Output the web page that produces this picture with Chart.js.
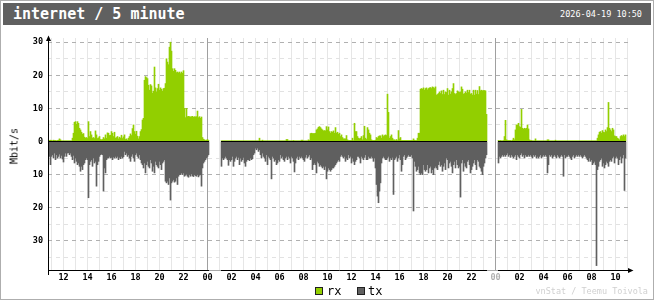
<!DOCTYPE html>
<html lang="en">

<head>
  <meta charset="UTF-8">
  <title>internet / 5 minute</title>
  <style>
    html, body { margin: 0; padding: 0; background: #fff; }
    #wrap { position: relative; width: 654px; height: 300px; font-family: "DejaVu Sans Mono", monospace; }
    #chart { position: absolute; left: 0; top: 0; }
    #frame { position: absolute; left: 0; top: 0; width: 654px; height: 300px; box-sizing: border-box; border: 1px solid #aeaeae; pointer-events: none; }
    #header { position: absolute; left: 3px; top: 3px; width: 648px; height: 22px; background: #606060; color: #fff; }
    #title { position: absolute; left: 10px; top: 0; line-height: 22px; font-size: 15px; font-weight: bold; white-space: pre; }
    #date { position: absolute; right: 9px; top: 0; line-height: 22px; font-size: 8.5px; }
    #unit { position: absolute; left: 14px; top: 146px; font-size: 10px; transform: translate(-50%, -50%) rotate(-90deg); white-space: nowrap; }
    .key { position: absolute; top: 287px; width: 6px; height: 6px; border: 1px solid #202020; }
    .keytext { position: absolute; top: 283px; font-size: 12px; line-height: 16px; }
    #credit { position: absolute; right: 6px; top: 286px; font-size: 8.5px; line-height: 10px; color: #d0d0d0; }
  </style>
</head>

<body>
  <div id="wrap">
    <canvas id="chart" width="654" height="300"></canvas>
    <div id="header">
      <span id="title">internet / 5 minute</span>
      <span id="date">2026-04-19 10:50</span>
    </div>
    <div id="unit">Mbit/s</div>
    <div class="key" style="left:315px;background:#92cf00"></div>
    <div class="keytext" style="left:327px">rx</div>
    <div class="key" style="left:357px;background:#606060"></div>
    <div class="keytext" style="left:368px">tx</div>
    <div id="credit">vnStat / Teemu Toivola</div>
    <div id="frame"></div>
  </div>

  <script src="https://cdn.jsdelivr.net/npm/chart.js"></script>
  <script>
    // first sample: 2026-04-17 10:50, in hours from 2026-04-18 00:00, one sample every 5 minutes
    const firstSample = -(13 + 10 / 60);

    // rx, Mbit/s, 04-17 10:50 .. 23:55
    const rx17 = [
      0.3, 0.4, 0.3, 0.2, 0.4, 0.3, 0.3, 0.2, 0.3, 0.4,
      0.8, 0.5,
      0.2, 0.2, 0.2, 0.2, 0.2, 0.2, 0.2, 0.2, 0.2, 0.2, 0.2,
      1.0, 2.5, 5.8, 6.0, 5.2, 6.0, 5.5, 4.0, 3.5,
      2.8, 2.2, 2.4, 1.3, 1.0, 1.2, 0.9, 6.0, 1.5, 3.0,
      2.0, 1.0, 1.2, 0.9, 3.2, 2.0, 0.9, 1.1, 1.5, 0.6,
      0.5, 0.6, 1.2, 0.8, 2.0, 1.0, 2.6, 2.5, 1.8, 1.9,
      3.0, 2.5, 1.5, 2.8, 1.0, 1.2, 1.5, 0.8, 1.3, 1.0,
      1.9, 0.9, 1.4, 2.0, 0.6, 0.8, 0.4, 1.0, 1.5, 2.3,
      1.8, 3.9, 5.0, 3.0, 2.2, 3.1, 1.6, 0.8, 1.5, 3.0,
      3.6, 6.5, 7.0, 18.5, 19.6, 19.3, 19.0, 17.0, 15.5, 17.2,
      16.8, 14.6, 15.2, 22.5, 16.2, 15.0, 16.0, 17.3, 15.5, 16.2,
      15.8, 15.2, 16.0, 16.1, 17.5, 25.0, 24.0, 23.2, 28.5, 30.0,
      27.3, 22.0, 21.2, 22.0, 21.5, 20.8, 21.0, 20.7, 21.0, 20.5,
      21.0, 20.6, 21.4, 10.0, 7.2, 10.0, 7.5, 7.6, 7.5, 7.4,
      7.5, 7.6, 7.3, 7.5, 7.4, 7.5, 9.2, 7.2, 7.5, 7.0,
      7.4, 1.2, 0.7, 0.5, 0.3, 0.4
    ];
    // rx, 04-18 00:00 .. 23:55
    const rx18 = [
      0.6, 0.3, null, null, null, null, null, null, null, null,
      null, null, null, null, 0.2, 0.2, 0.2, 0.2, 0.2, 0.2,
      0.2, 0.2, 0.2, 0.2, 0.2, 0.2, 0.2, 0.2, 0.2, 0.2,
      0.2, 0.2, 0.2, 0.2, 0.2, 0.2, 0.2, 0.2, 0.2, 0.2,
      0.2, 0.2, 0.2, 0.2, 0.2, 0.2, 0.2, 0.2, 0.2, 0.2,
      0.2, 0.2, 1.0, 0.2, 0.2, 0.4, 0.2, 0.2, 0.2, 0.2,
      0.2, 0.2, 0.2, 0.2, 0.2, 0.2, 0.2, 0.2, 0.2, 0.2,
      0.2, 0.2, 0.2, 0.2, 0.2, 0.2, 0.2, 0.2, 0.2, 0.6,
      0.6, 0.2, 0.2, 0.2, 0.2, 0.2, 0.3, 0.2, 0.2, 0.2,
      0.2, 0.2, 0.2, 0.2, 0.4, 0.4, 0.2, 0.2, 0.2, 0.2,
      0.2, 0.5, 0.3, 2.4, 2.5, 2.4, 2.4, 2.4, 2.5, 3.5,
      3.8, 4.3, 4.5, 4.2, 3.8, 3.5, 3.2, 3.3, 3.2, 4.5,
      3.5, 4.4, 3.0, 2.5, 3.0, 2.8, 3.2, 2.5, 4.2, 2.5,
      2.8, 2.2, 2.5, 1.5, 2.0, 1.2, 0.8, 0.8, 0.8, 1.8,
      0.5, 0.3, 0.3, 0.3, 0.3, 1.0, 0.3, 5.5, 3.0, 3.0,
      1.5, 1.0, 0.8, 1.0, 1.5, 0.5, 1.8, 4.6, 1.0, 0.6,
      4.2, 3.5, 2.5, 2.0, 0.5, 0.3, 0.3, 0.3, 0.4, 1.2,
      1.0, 1.5, 1.7, 1.7, 1.0, 2.0, 1.5, 1.8, 2.0, 1.8,
      14.3, 8.8, 1.0, 1.5, 2.0, 1.0, 0.5, 0.5, 0.3, 0.6,
      0.3, 3.3, 0.8, 1.2, 0.3, 0.3, 0.3, 0.3, 0.3, 0.3,
      0.3, 0.3, 0.3, 0.3, 0.3, 0.3, 0.8, 0.4, 0.3, 0.3,
      1.0, 2.5, 2.5, 15.8, 16.0, 15.8, 16.2, 15.5, 16.0, 16.2,
      15.6, 16.0, 16.2, 16.3, 16.0, 16.5, 16.3, 16.0, 16.5, 14.0,
      14.2, 14.5, 15.0, 14.5, 15.3, 14.2, 15.5, 14.2, 15.0, 14.8,
      16.0, 14.0, 15.5, 14.3, 15.0, 16.0, 17.5, 14.5, 14.2, 14.5,
      15.3, 15.0, 14.8, 15.0, 16.5, 15.8, 14.3, 14.5, 15.0, 14.6,
      15.5, 14.8, 15.5, 14.3, 14.5, 14.0, 15.5, 14.0, 15.5, 14.3,
      15.4, 14.2, 16.6, 15.3, 15.5, 15.3, 15.4, 15.4, 15.3, 8.2,
      null, null, null, null, null, null, null, null
    ];
    // rx, 04-19 00:00 .. 10:50
    const rx19 = [
      null, null, null, 0.3, 0.2, 0.3, 0.2, 0.2, 0.3, 1.5,
      6.4, 0.5, 0.3, 0.3, 0.3, 0.3, 0.2, 0.4, 1.0, 0.5,
      3.5, 5.0, 5.0, 5.5, 4.5, 4.3, 9.7, 4.0, 3.7, 4.0,
      3.8, 4.0, 5.0, 3.8, 0.5, 0.3, 0.3, 0.2, 0.2, 0.2,
      0.8, 0.2, 0.2, 0.2, 0.2, 0.2, 0.2, 0.2, 0.2, 0.2,
      0.2, 0.2, 0.5, 0.5, 0.2, 0.2, 0.2, 0.2, 0.2, 0.2,
      0.4, 0.2, 0.2, 0.2, 0.2, 0.2, 0.2, 0.2, 0.2, 0.2,
      0.2, 0.2, 0.2, 0.2, 0.2, 0.2, 0.2, 0.2, 0.2, 0.2,
      0.2, 0.2, 0.2, 0.2, 0.2, 0.2, 0.2, 0.2, 0.2, 0.2,
      0.2, 0.2, 0.2, 0.2, 0.2, 0.2, 0.2, 0.2, 0.2, 0.2,
      0.2, 0.2, 1.0, 2.0, 2.8, 3.0, 2.5, 3.3, 2.8, 2.7,
      3.5, 3.0, 4.2, 11.8, 4.0, 3.5, 3.0, 4.0, 3.5, 1.7,
      1.5, 1.5, 1.0, 0.8, 0.5, 1.5, 1.8, 1.5, 2.0, 1.5,
      2.0
    ];

    // tx, Mbit/s (drawn below zero), same times as rx
    const tx17 = [
      4.5, 7.0, 4.5, 4.0, 5.0, 3.5, 5.5, 4.0, 5.0, 4.5, 3.8, 5.0,
      4.2, 5.3, 6.2, 4.5, 3.5, 4.5, 3.5, 3.4, 4.0, 3.5,
      4.5, 5.5, 4.2, 6.5, 5.0, 6.0, 7.0, 6.5, 7.5, 9.0,
      7.5, 8.5, 7.0, 6.5, 5.5, 5.0, 5.5, 17.0, 7.0, 6.0,
      5.5, 7.5, 5.0, 6.5, 6.0, 13.5, 7.0, 6.0, 4.5, 4.0,
      3.8, 4.0, 15.0, 8.0, 9.5, 5.5, 5.0, 5.0, 4.5, 5.0,
      4.8, 5.5, 4.7, 5.0, 4.5, 5.0, 4.5, 5.5, 4.8, 5.2,
      4.5, 5.0, 4.6, 3.0, 4.0, 3.5, 4.5, 4.0, 5.0, 6.0,
      4.5, 3.8, 5.0, 6.0, 4.0, 3.5, 4.5, 5.0, 4.0, 5.5,
      6.5, 7.0, 8.0, 6.5, 9.5, 7.0, 6.0, 7.5, 8.0, 5.5,
      6.5, 9.0, 7.5, 9.5, 6.0, 7.0, 7.5, 8.0, 6.0, 7.0,
      8.5, 6.5, 6.0, 5.5, 12.0, 12.5, 12.0, 13.0, 11.0, 17.7,
      12.5, 12.0, 11.5, 12.3, 12.0, 11.0, 13.0, 10.5, 10.0, 10.0,
      9.5, 10.0, 9.5, 10.5, 10.2, 9.8, 10.5, 10.8, 10.0, 10.5,
      9.8, 10.4, 10.6, 10.0, 10.3, 10.5, 10.0, 10.7, 10.2, 10.0,
      13.5, 8.0, 6.5, 6.0, 5.5, 5.0
    ];
    const tx18 = [
      4.5, 4.0,
      null, null, null, null, null, null, null, null, null, null, null, null,
      7.5, 5.0, 5.5, 5.0, 4.5, 5.0, 5.5, 7.2, 5.5, 6.0,
      5.5, 4.5, 7.5, 6.0, 5.0, 4.5, 5.5, 4.8, 7.0, 5.0,
      6.0, 5.5, 4.8, 6.5, 7.5, 6.0, 5.5, 5.5, 5.8, 5.0,
      5.5, 5.2, 4.0, 3.5, 2.0, 2.5, 2.0, 3.0, 2.5, 4.0,
      5.0, 3.5, 4.5, 5.0, 6.0, 4.0, 7.0, 4.5, 5.0, 5.5,
      11.3, 4.5, 5.0, 6.0, 5.5, 7.0, 6.5, 5.5, 6.0, 4.0,
      5.0, 4.5, 5.5, 6.0, 5.0, 4.5, 5.5, 4.5, 5.0, 6.5,
      4.5, 5.0, 6.0, 9.2, 6.5, 5.0, 4.5, 5.5, 4.5, 5.0,
      4.5, 5.0, 5.5, 6.0, 4.8, 4.0, 5.0, 4.5, 4.0, 5.5,
      5.0, 8.5, 7.0, 6.5, 7.0, 9.5, 6.0, 6.5, 7.5, 7.0,
      7.5, 8.0, 7.5, 8.5, 7.5, 11.3, 9.0, 8.0, 8.5, 9.0,
      8.5, 8.0, 8.0, 7.5, 7.0, 6.5, 6.0, 5.5, 6.0, 4.5,
      4.0, 4.5, 5.0, 4.5, 6.0, 5.0, 5.5, 4.0, 5.0, 4.5,
      6.5, 5.0, 6.0, 7.0, 6.0, 5.5, 4.5, 4.5, 5.0, 6.5,
      4.5, 5.0, 5.5, 4.8, 4.0, 5.5, 5.5, 4.5, 5.0, 5.0,
      4.5, 5.0, 6.0, 5.0, 8.0, 13.0, 16.5, 18.5, 15.0, 12.5,
      6.5, 5.0, 4.5, 5.0, 5.5, 5.5, 5.0, 4.5, 6.0, 5.0,
      5.5, 4.8, 16.0, 5.5, 5.0, 4.5, 6.0, 5.0, 4.0, 5.5,
      9.0, 7.0, 4.5, 4.0, 5.5, 5.0, 4.5, 4.0, 4.5, 4.5,
      4.0, 5.0, 21.0, 6.0, 7.5, 9.0, 8.5, 7.5, 9.5, 10.0,
      9.5, 10.0, 7.0, 8.5, 9.0, 8.5, 7.0, 9.5, 8.0, 7.5,
      9.5, 8.5, 10.0, 8.0, 7.5, 8.0, 8.5, 7.0, 6.0, 7.5,
      7.0, 9.0, 7.5, 6.5, 8.5, 5.0, 5.5, 8.0, 6.5, 6.0,
      7.5, 9.5, 7.0, 6.0, 8.0, 5.5, 7.0, 8.0, 7.5, 16.8,
      6.5, 5.5, 9.0, 6.5, 7.5, 8.0, 6.0, 5.5, 7.0, 9.5,
      8.5, 7.5, 6.5, 5.5, 7.0, 8.5, 5.5, 6.0, 7.5, 8.0,
      9.0, 10.0, 7.5, 6.5, 5.0, 4.0,
      null, null, null, null, null, null, null, null
    ];
    const tx19 = [
      null, null, null,
      6.5, 4.5, 5.0, 4.5, 4.0, 4.5, 4.0, 4.5, 4.0, 3.5,
      4.5, 4.0, 4.8, 4.0, 4.5, 5.0, 4.5, 4.0, 5.5, 4.0,
      4.5, 5.0, 4.0, 3.5, 4.5, 4.0, 5.0, 4.0, 4.5, 4.5,
      4.0, 4.5, 4.0, 4.5, 5.0, 4.0, 4.5, 4.0, 5.0, 4.5,
      5.0, 4.5, 4.0, 5.0, 4.5, 4.0, 4.5, 4.0, 4.5, 9.5,
      7.0, 4.0, 4.5, 4.0, 5.0, 4.5, 4.0, 4.5, 5.0, 4.0,
      4.5, 5.0, 4.5, 4.0, 4.5, 10.5, 4.0, 5.0, 4.5, 4.5,
      4.0, 4.5, 5.0, 5.5, 4.5, 4.0, 5.0, 4.5, 4.0, 4.5,
      4.0, 4.5, 4.0, 4.5, 5.0, 4.5, 4.0, 4.5, 5.0, 5.5,
      6.0, 5.0, 6.0, 5.5, 7.0, 6.5, 6.0, 7.0, 37.5, 8.5,
      7.5, 6.0, 5.5, 5.0, 7.5, 6.5, 8.0, 7.0, 6.0, 6.5,
      7.5, 6.0, 5.5, 6.0, 5.0, 4.5, 6.5, 5.0, 4.5, 5.0,
      7.0, 5.5, 4.5, 6.5, 5.0, 4.0, 14.8, 5.0
    ];

    const rxColor = '#92cf00';
    const txColor = '#606060';

    const rx = rx17.concat(rx18, rx19);
    const tx = tx17.concat(tx18, tx19);
    const times = rx.map((v, i) => firstSample + i / 12);

    // one pixel per 5 minutes
    const xMin = firstSample - 1.5 / 12;
    const xMax = xMin + 583 / 12;

    const tickFont = { family: "'DejaVu Sans Mono', monospace", size: 8.5, weight: 'bold' };

    const axes = {
      id: 'axes',
      afterDatasetsDraw(chart) {
        const { ctx, chartArea: a, scales: { x, y } } = chart;
        const y0 = Math.floor(y.getPixelForValue(0)) + 0.5;
        const left = a.left + 0.5;
        const bottom = a.bottom + 0.5;
        ctx.save();
        ctx.lineWidth = 1;

        // zero line only where there is data
        ctx.strokeStyle = '#000';
        ctx.beginPath();
        rx.forEach((v, i) => {
          if (v === null) return;
          const px = x.getPixelForValue(times[i]);
          ctx.moveTo(px - 0.5, y0);
          ctx.lineTo(px + 0.5, y0);
        });
        ctx.stroke();

        ctx.beginPath();
        ctx.moveTo(left, a.top - 1);
        ctx.lineTo(left, a.bottom + 5);
        ctx.moveTo(a.left, bottom);
        ctx.lineTo(a.right, bottom);
        ctx.stroke();

        // no data: grey axis
        ctx.strokeStyle = '#a8a8a8';
        ctx.beginPath();
        rx.forEach((v, i) => {
          if (v !== null) return;
          const px = x.getPixelForValue(times[i]);
          ctx.moveTo(px - 0.5, bottom);
          ctx.lineTo(px + 0.5, bottom);
        });
        ctx.stroke();

        ctx.fillStyle = '#000';
        ctx.beginPath();
        ctx.moveTo(left, a.top - 2.5);
        ctx.lineTo(left - 2.5, a.top + 3);
        ctx.lineTo(left + 2.5, a.top + 3);
        ctx.closePath();
        ctx.fill();
        ctx.beginPath();
        ctx.moveTo(a.right + 2.5, bottom);
        ctx.lineTo(a.right - 3, bottom - 2.5);
        ctx.lineTo(a.right - 3, bottom + 2.5);
        ctx.closePath();
        ctx.fill();
        ctx.restore();
      }
    };

    new Chart(document.getElementById('chart'), {
      type: 'bar',
      data: {
        datasets: [
          {
            label: 'rx',
            data: rx.map((v, i) => ({ x: times[i], y: v })),
            backgroundColor: rxColor,
            grouped: false,
            barThickness: 1,
            borderWidth: 0
          },
          {
            label: 'tx',
            data: tx.map((v, i) => ({ x: times[i], y: v === null ? null : -v })),
            backgroundColor: txColor,
            grouped: false,
            barThickness: 1,
            borderWidth: 0
          }
        ]
      },
      options: {
        responsive: false,
        animation: false,
        devicePixelRatio: 1,
        layout: { autoPadding: false, padding: { left: 0, top: 38, right: 23, bottom: 0 } },
        plugins: {
          legend: { display: false },
          title: { display: false },
          tooltip: { enabled: false }
        },
        scales: {
          x: {
            type: 'linear',
            min: xMin,
            max: xMax,
            offset: false,
            afterFit: (s) => { s.height = 30; },
            afterBuildTicks: (s) => {
              const ticks = [];
              for (let h = -13; h <= 35; h++) ticks.push({ value: h });
              s.ticks = ticks;
            },
            grid: {
              offset: false,
              drawTicks: false,
              color: (c) => (c.tick && c.tick.value % 24 === 0 ? '#a0a0a0' : '#e6e6e6')
            },
            border: { display: false },
            ticks: {
              autoSkip: false,
              maxRotation: 0,
              padding: 3,
              font: tickFont,
              color: (c) => (c.tick && c.tick.value === 24 ? '#b0b0b0' : '#000'),
              callback: (v) => (v % 2 === 0 ? String(((v % 24) + 24) % 24).padStart(2, '0') : '')
            }
          },
          y: {
            min: -38.83,
            max: 31.27,
            afterFit: (s) => { s.width = 48; },
            afterBuildTicks: (s) => {
              const ticks = [];
              for (let v = -35; v <= 30; v += 5) ticks.push({ value: v });
              s.ticks = ticks;
            },
            grid: {
              drawTicks: false,
              color: (c) => {
                const v = c.tick ? c.tick.value : 1;
                if (v === 0) return 'rgba(0,0,0,0)';
                return v % 10 === 0 ? '#b0b0b0' : '#e2e2e2';
              }
            },
            border: { display: false, dash: [4, 4] },
            ticks: {
              padding: 5,
              font: tickFont,
              color: '#000',
              callback: (v) => (v % 10 === 0 ? String(Math.abs(v)) : '')
            }
          }
        }
      },
      plugins: [axes]
    });
  </script>
</body>

</html>
